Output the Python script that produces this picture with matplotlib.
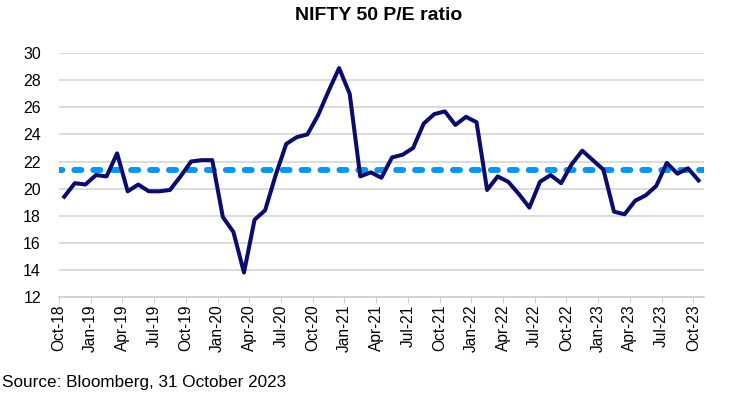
import matplotlib.pyplot as plt
import numpy as np

plt.rcParams['font.family'] = ['Liberation Sans', 'DejaVu Sans']

# monthly P/E, Oct-18 .. Oct-23
pe = [19.4, 20.4, 20.3, 21.0, 20.9, 22.6, 19.8, 20.3, 19.8, 19.8,
      19.9, 20.9, 22.0, 22.1, 22.1, 17.9, 16.8, 13.8, 17.7, 18.4,
      21.0, 23.3, 23.8, 24.0, 25.4, 27.2, 28.9, 27.0, 20.9, 21.2,
      20.8, 22.3, 22.5, 23.0, 24.8, 25.5, 25.7, 24.7, 25.3, 24.9,
      19.9, 20.9, 20.5, 19.6, 18.6, 20.5, 21.0, 20.4, 21.8, 22.8,
      22.1, 21.4, 18.3, 18.1, 19.1, 19.5, 20.2, 21.9, 21.1, 21.5,
      20.6]
average = 21.4
tick_labels = ['Oct-18', 'Jan-19', 'Apr-19', 'Jul-19', 'Oct-19', 'Jan-20', 'Apr-20',
               'Jul-20', 'Oct-20', 'Jan-21', 'Apr-21', 'Jul-21', 'Oct-21', 'Jan-22',
               'Apr-22', 'Jul-22', 'Oct-22', 'Jan-23', 'Apr-23', 'Jul-23', 'Oct-23']

fig = plt.figure(figsize=(7.56, 4.09), dpi=100)
ax = fig.add_axes([0.078, 0.274, 0.853, 0.596])

x = np.arange(len(pe))
# average line spans the full plot width
ax.plot([-0.5, len(pe) - 0.5], [average, average], color='#0A96F0', lw=4.3,
        ls=(0.6, (1.17, 2.0)), dash_capstyle='round', zorder=2)
ax.plot(x, pe, color='#0B0C6B', lw=2.9, zorder=3)

ax.set_xlim(-0.5, len(pe) - 0.5)
ax.set_ylim(12, 30)
ax.set_yticks(np.arange(12, 31, 2))
ax.set_xticks(np.arange(0, len(pe), 3) - 0.5)
ax.set_xticklabels(tick_labels, rotation=90, fontsize=11.2)
ax.tick_params(axis='y', length=0, labelsize=11.5, pad=13)
ax.tick_params(axis='x', length=4, color='#D0D0D0', pad=1.5)

ax.grid(axis='y', color='#D9D9D9', lw=1.3)
ax.set_axisbelow(True)
for s in ['left', 'right', 'top']:
    ax.spines[s].set_visible(False)
ax.spines['bottom'].set_color('#D0D0D0')
ax.spines['bottom'].set_linewidth(1.3)

fig.text(0.501, 0.963, 'NIFTY 50 P/E ratio', ha='center', va='center',
         fontsize=14, fontweight='bold')
fig.text(0.003, 0.066, 'Source: Bloomberg, 31 October 2023', ha='left', va='center',
         fontsize=12.3)

fig.savefig('out.png', dpi=100)
